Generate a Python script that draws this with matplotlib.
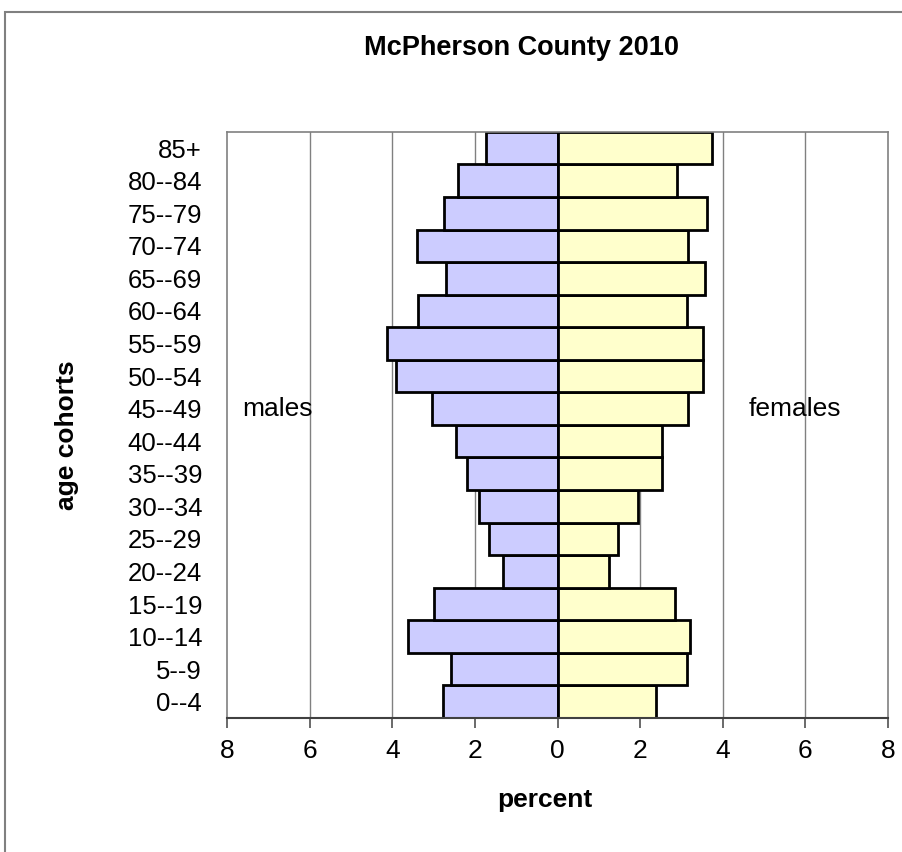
import matplotlib
matplotlib.use("Agg")
import matplotlib.pyplot as plt
from matplotlib.patches import Rectangle

cohorts = ["0--4", "5--9", "10--14", "15--19", "20--24", "25--29", "30--34",
           "35--39", "40--44", "45--49", "50--54", "55--59", "60--64",
           "65--69", "70--74", "75--79", "80--84", "85+"]
males   = [2.78, 2.59, 3.63, 3.00, 1.33, 1.65, 1.91, 2.18, 2.45,
           3.05, 3.90, 4.12, 3.37, 2.69, 3.41, 2.74, 2.42, 1.72]
females = [2.39, 3.13, 3.21, 2.84, 1.25, 1.46, 1.94, 2.53, 2.53,
           3.16, 3.52, 3.53, 3.13, 3.57, 3.16, 3.62, 2.90, 3.74]
xticks  = [-8, -6, -4, -2, 0, 2, 4, 6, 8]

plt.rcParams["font.family"] = ["Liberation Sans", "DejaVu Sans"]

fig = plt.figure(figsize=(9.03, 8.52), dpi=100)
ax = fig.add_axes([0.2514, 0.1573, 0.732, 0.688])

# outer chart frame (cut off on right/bottom like the screenshot)
fig.patches.append(Rectangle((5 / 903, -0.05), 1.05, 1 - 12 / 852 + 0.05,
                             transform=fig.transFigure, fill=False,
                             edgecolor="#808080", linewidth=1.5))

y = range(len(cohorts))
for gx in [-6, -4, -2, 2, 4, 6]:
    ax.axvline(gx, color="#808080", linewidth=1, zorder=0)

ax.barh(y, [-m for m in males], height=1.0, color="#CCCCFF",
        edgecolor="black", linewidth=2, zorder=2)
ax.barh(y, females, height=1.0, color="#FFFFCC",
        edgecolor="black", linewidth=2, zorder=2)

ax.set_xlim(-8, 8)
ax.set_ylim(-0.5, len(cohorts) - 0.5)
ax.set_xticks(xticks)
ax.set_xticklabels([str(abs(t)) for t in xticks], fontsize=19)
ax.set_yticks(list(y))
ax.set_yticklabels(cohorts, fontsize=18.5)
ax.tick_params(axis="y", length=0, pad=18)
ax.tick_params(axis="x", length=7, width=1.2, color="#505050", pad=8)
for s in ax.spines.values():
    s.set_color("#808080")
    s.set_linewidth(1.2)
ax.spines["bottom"].set_color("#404040")
ax.spines["bottom"].set_linewidth(1.5)

fig.text(545 / 903, 1 - 800 / 852, "percent", fontsize=19, fontweight="bold",
         ha="center", va="center")
fig.text(67 / 903, 1 - 435 / 852, "age cohorts", fontsize=19, fontweight="bold",
         ha="center", va="center", rotation=90)

ax.text(-6.79, 9, "males", fontsize=19, ha="center", va="center")
ax.text(5.74, 9, "females", fontsize=19, ha="center", va="center")

fig.text(522 / 903, 1 - 48 / 852, "McPherson County 2010",
         fontsize=19.5, fontweight="bold", ha="center", va="center")

fig.savefig("out.png", dpi=100)
